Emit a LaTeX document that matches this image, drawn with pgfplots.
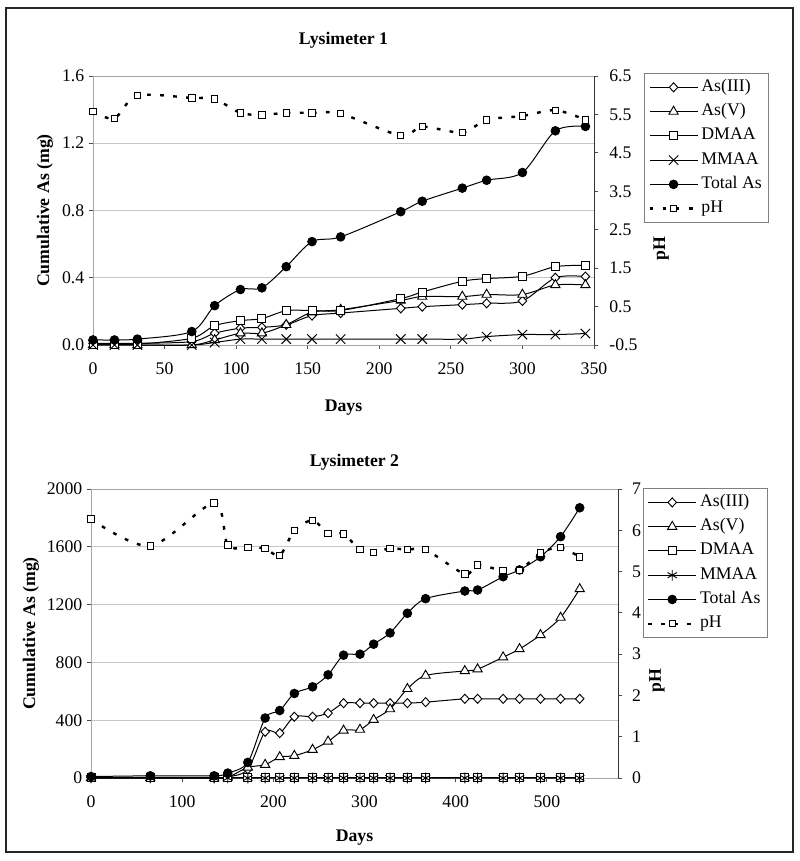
\documentclass[border=0pt]{standalone}
\usepackage{fontspec}
\setmainfont{Liberation Serif}
\usepackage{pgfplots}
\usepackage{pgfplotstable}
\pgfplotsset{compat=1.18}

\newcommand{\fs}{\fontsize{13.3}{15}\selectfont}

% day, As(III), As(V), DMAA, MMAA, Total As (mg), pH
\pgfplotstableread{
day  as3   as5   dmaa  mmaa  tot   ph
0    0.010 0.000 0.005 0.000 0.030 5.57
15   0.010 0.000 0.005 0.000 0.030 5.40
31   0.010 0.000 0.005 0.000 0.035 5.99
69   0.020 0.000 0.040 0.000 0.080 5.93
85   0.070 0.030 0.115 0.015 0.234 5.90
103  0.100 0.070 0.145 0.035 0.330 5.54
118  0.105 0.070 0.157 0.035 0.340 5.49
135  0.120 0.120 0.204 0.035 0.466 5.54
153  0.175 0.195 0.205 0.035 0.615 5.54
173  0.190 0.210 0.205 0.035 0.643 5.52
215  0.218 0.265 0.276 0.035 0.793 4.95
230  0.228 0.288 0.315 0.035 0.855 5.18
258  0.240 0.288 0.379 0.035 0.933 5.03
275  0.248 0.300 0.395 0.050 0.980 5.36
300  0.262 0.300 0.409 0.062 1.026 5.46
323  0.400 0.357 0.466 0.062 1.274 5.61
344  0.407 0.357 0.474 0.068 1.300 5.36
}\lysa

\pgfplotstableread{
day  as3  as5   dmaa mmaa tot   ph
0    3    0     2    0    10    6.27
65   3    0     2    0    15    5.62
135  3    0     2    0    15    6.66
150  8    5     2    0    34    5.64
172  60   73    2    0    108   5.59
191  320  92    2    0    415   5.56
207  311  145   2    0    467   5.39
223  424  154   2    0    585   5.99
243  424  196   2    0    631   6.24
260  449  253   2    0    714   5.93
277  518  329   2    0    850   5.91
295  518  335   2    0    857   5.53
310  518  403   2    0    926   5.47
328  518  477   2    0    1004  5.56
347  518  617   2    0    1140  5.53
367  525  709   2    0    1241  5.53
410  548  741   2    0    1294  4.94
424  548  753   2    0    1301  5.16
452  548  836   2    0    1393  5.02
470  548  893   2    0    1440  5.03
493  548  990   2    0    1531  5.45
515  548  1110  2    0    1670  5.58
536  548  1308  2    0    1870  5.35
}\lysb

\pgfplotsset{
  lysbase/.style={
    scale only axis, clip=false,
    tick label style={font=\fs},
    label style={font=\fs\bfseries},
    title style={font=\fs\bfseries},
    every axis title shift=0pt,
    /pgf/number format/assume math mode=true,
    /pgf/number format/1000 sep={},
    tick align=outside, major tick length=3pt,
    every tick/.style={gray!60!black, line width=0.6pt},
  },
  ln/.style={black, line width=0.75pt, smooth},
  s3/.style={ln, mark=diamond*, mark size=3.4pt,
    mark options={solid, fill=white, xscale=1.25, line width=0.7pt}},
  s5/.style={ln, mark=triangle*, mark size=4pt,
    mark options={solid, fill=white, line width=0.7pt}},
  sd/.style={ln, mark=square*, mark size=3pt,
    mark options={solid, fill=white, line width=0.7pt}},
  sm/.style={ln, mark=x, mark size=5pt, mark options={solid, line width=0.7pt}},
  smst/.style={ln, mark=asterisk, mark size=4pt, mark options={solid, line width=0.7pt}},
  st/.style={ln, mark=*, mark size=3.2pt, mark options={solid, fill=black}},
  sph/.style={black, line width=1.8pt, smooth, dash pattern=on 2.8pt off 7pt,
    mark=square*, mark size=2.4pt,
    mark options={solid, fill=white, line width=0.7pt}},
  lysleg/.style={
    legend image code/.code={\draw[mark repeat=2,mark phase=2,##1]
      plot coordinates {(0pt,0pt) (18pt,0pt) (36pt,0pt)};},
    legend cell align=left,
    legend style={draw=gray, font=\fs, inner xsep=3pt, inner ysep=2pt,
      row sep=1.2pt,
      nodes={inner sep=2pt, text height=9.5pt, text depth=3.5pt}},
  },
}

\begin{document}
\begin{tikzpicture}
\useasboundingbox (0,0) rectangle (600pt,645.75pt);
\draw[black!85, line width=1.2pt] (4.5pt,6.75pt) rectangle (594.75pt,639.75pt);

% ---------- Lysimeter 1 ----------
\begin{axis}[lysbase,
  at={(69.75pt,387pt)}, anchor=south west,
  width=375.75pt, height=201.75pt,
  xmin=0, xmax=350, ymin=0, ymax=1.6,
  xtick={0,50,...,350}, ytick={0,0.4,0.8,1.2,1.6},
  xtick pos=left, ytick pos=left,
  xticklabel style={yshift=-7pt},
  yticklabel style={/pgf/number format/.cd, fixed, fixed zerofill, precision=1},
  axis line style={gray!70},
  ymajorgrids, grid style={gray!45, line width=0.6pt},
  title={Lysimeter 1}, title style={at={(0.5,1.134)}, anchor=center},
  xlabel={Days}, xlabel style={at={(0.5,-0.232)}, anchor=center},
  ylabel={Cumulative As (mg)}, ylabel style={at={(-0.096,0.5)}, anchor=center},
]
\addplot[s3] table[x=day,y=as3]{\lysa};
\addplot[s5] table[x=day,y=as5]{\lysa};
\addplot[sd] table[x=day,y=dmaa]{\lysa};
\addplot[sm] table[x=day,y=mmaa]{\lysa};
\addplot[st] table[x=day,y=tot]{\lysa};
\end{axis}
\begin{axis}[lysbase, lysleg,
  at={(69.75pt,387pt)}, anchor=south west,
  width=375.75pt, height=201.75pt,
  xmin=0, xmax=350, ymin=-0.5, ymax=6.5,
  axis x line=none, axis y line*=right,
  axis line style={gray!40!black},
  ytick={-0.5,0.5,1.5,2.5,3.5,4.5,5.5,6.5},
  yticklabel style={xshift=5pt, /pgf/number format/.cd, fixed, fixed zerofill, precision=1},
  ylabel={pH}, ylabel style={at={(1.134,0.357)}, anchor=center},
  legend style={at={(1.1,1.011)}, anchor=north west},
]
\addlegendimage{s3}\addlegendentry{As(III)}
\addlegendimage{s5}\addlegendentry{As(V)}
\addlegendimage{sd}\addlegendentry{DMAA}
\addlegendimage{sm}\addlegendentry{MMAA}
\addlegendimage{st}\addlegendentry{Total As}
\addplot[sph] table[x=day,y=ph]{\lysa};
\addlegendentry{pH}
\end{axis}

% ---------- Lysimeter 2 ----------
\begin{axis}[lysbase,
  at={(68.25pt,62.25pt)}, anchor=south west,
  width=395.25pt, height=216.75pt,
  xmin=0, xmax=578, ymin=0, ymax=2000,
  xtick={0,100,...,500}, ytick={0,400,...,2000},
  xtick pos=left, ytick pos=left,
  xticklabel style={yshift=-7pt},
  axis line style={gray!70},
  ymajorgrids, grid style={gray!45, line width=0.6pt},
  title={Lysimeter 2}, title style={at={(0.5,1.093)}, anchor=center},
  xlabel={Days}, xlabel style={at={(0.5,-0.205)}, anchor=center},
  ylabel={Cumulative As (mg)}, ylabel style={at={(-0.114,0.5)}, anchor=center},
]
\addplot[s3] table[x=day,y=as3]{\lysb};
\addplot[s5] table[x=day,y=as5]{\lysb};
\addplot[sd] table[x=day,y=dmaa]{\lysb};
\addplot[smst] table[x=day,y=mmaa]{\lysb};
\addplot[st] table[x=day,y=tot]{\lysb};
\end{axis}
\begin{axis}[lysbase, lysleg,
  at={(68.25pt,62.25pt)}, anchor=south west,
  width=395.25pt, height=216.75pt,
  xmin=0, xmax=578, ymin=0, ymax=7,
  axis x line=none, axis y line*=right,
  axis line style={gray!40!black},
  ytick={0,1,...,7},
  yticklabel style={xshift=4pt},
  ylabel={pH}, ylabel style={at={(1.074,0.336)}, anchor=center},
  legend style={at={(1.047,1.003)}, anchor=north west},
]
\addlegendimage{s3}\addlegendentry{As(III)}
\addlegendimage{s5}\addlegendentry{As(V)}
\addlegendimage{sd}\addlegendentry{DMAA}
\addlegendimage{smst}\addlegendentry{MMAA}
\addlegendimage{st}\addlegendentry{Total As}
\addplot[sph] table[x=day,y=ph]{\lysb};
\addlegendentry{pH}
\end{axis}
\end{tikzpicture}
\end{document}
